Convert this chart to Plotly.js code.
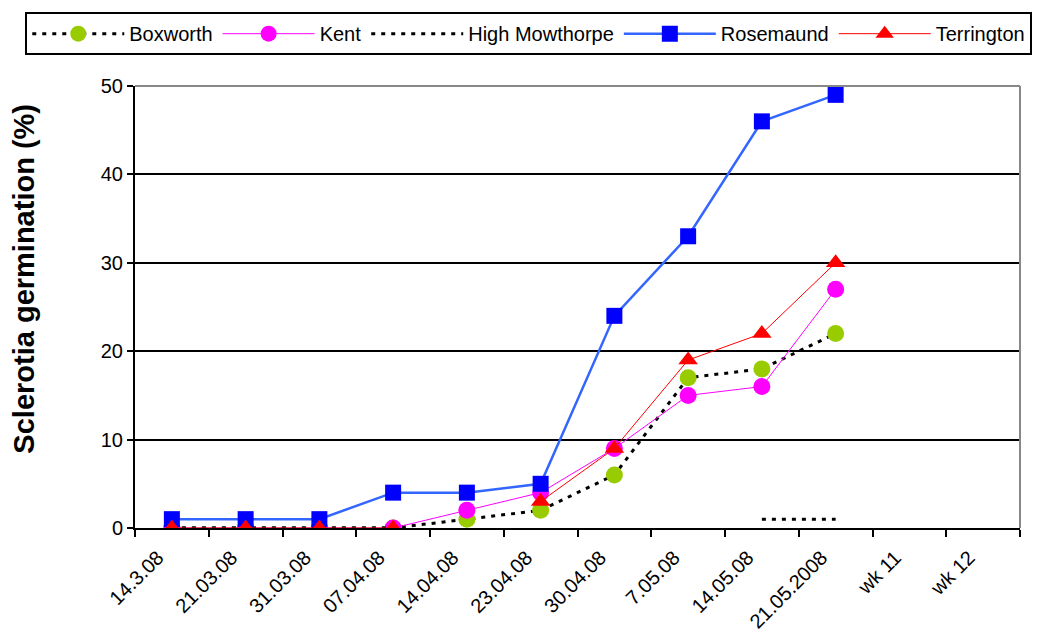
<!DOCTYPE html>
<html>
<head>
<meta charset="utf-8">
<script src="https://cdn.plot.ly/plotly-3.0.1.min.js"></script>
<style>html,body{margin:0;padding:0;background:#fff;}#chart{width:1038px;height:635px;}</style>
</head>
<body>
<div id="chart"></div>
<script>
const categories = ["14.3.08","21.03.08","31.03.08","07.04.08","14.04.08","23.04.08","30.04.08","7.05.08","14.05.08","21.05.2008","wk 11","wk 12"];
const dates = categories.slice(0, 10);
const boxworth = [0,0,0,0,1,2,6,17,18,22];
const kent = [0,0,0,0,2,4,9,15,16,27];
const highMowthorpe = [0,0,0,0,null,null,null,null,1,1];
const rosemaund = [1,1,1,4,4,5,24,33,46,49];
const terrington = [0,0,0,0,null,3,9,19,22,30];
const yTitle = "Sclerotia germination (%)";

const traces = [
  {name:"Boxworth", x:dates, y:boxworth, mode:"lines+markers",
   line:{color:"#000000", width:3, dash:"4px,6px"},
   marker:{symbol:"circle", size:17, color:"#99CC00"}},
  {name:"Kent", x:dates, y:kent, mode:"lines+markers",
   line:{color:"#FF00FF", width:1},
   marker:{symbol:"circle", size:17, color:"#FF00FF"}},
  {name:"High Mowthorpe", x:dates, y:highMowthorpe, mode:"lines",
   line:{color:"#000000", width:3, dash:"4px,6px"}},
  {name:"Rosemaund", x:dates, y:rosemaund, mode:"lines+markers",
   line:{color:"#3366FF", width:2.5},
   marker:{symbol:"square", size:16, color:"#0000FF"}},
  {name:"Terrington", x:dates, y:terrington, mode:"lines+markers",
   line:{color:"#FF0000", width:1},
   marker:{symbol:"triangle-up", size:17, color:"#FF0000"}}
];

const layout = {
  width:1038, height:635,
  margin:{l:135, r:18, t:84, b:107},
  paper_bgcolor:"#ffffff", plot_bgcolor:"#ffffff",
  font:{family:"Liberation Sans, Arial, sans-serif", color:"#000", size:20},
  showlegend:true,
  legend:{orientation:"h", x:-0.124, xanchor:"left", y:1.167, yanchor:"top",
    bordercolor:"#000", borderwidth:2, bgcolor:"#fff",
    font:{size:20}, itemwidth:92, tracegroupgap:0},
  xaxis:{type:"category", categoryorder:"array", categoryarray:categories,
    range:[-0.5, 11.5], tickson:"boundaries", ticks:"outside", ticklen:7,
    tickwidth:2, tickcolor:"#000", showline:true, linecolor:"#000", linewidth:2,
    showgrid:false, tickangle:-45, tickfont:{size:20}, fixedrange:true,
    ticklabelshift:-14, ticklabelstandoff:8},
  yaxis:{range:[0,50], dtick:10, ticks:"outside", ticklen:6, tickwidth:2, tickcolor:"#000",
    showline:true, linecolor:"#000", linewidth:2, showgrid:true, gridcolor:"#000",
    gridwidth:2, zeroline:false, tickfont:{size:20}},
  annotations:[
    {text:"<b>"+yTitle+"</b>", xref:"paper", yref:"paper", x:-0.125, y:0.565,
     xanchor:"center", yanchor:"middle", textangle:-90, showarrow:false, font:{size:29}}
  ],
  shapes:[
    {type:"line", xref:"paper", yref:"paper", x0:0, x1:1, y0:1, y1:1, line:{color:"#888", width:2}},
    {type:"line", xref:"paper", yref:"paper", x0:1, x1:1, y0:0, y1:1, line:{color:"#888", width:2}}
  ]
};

Plotly.newPlot("chart", traces, layout, {displayModeBar:false, staticPlot:true});
</script>
</body>
</html>
